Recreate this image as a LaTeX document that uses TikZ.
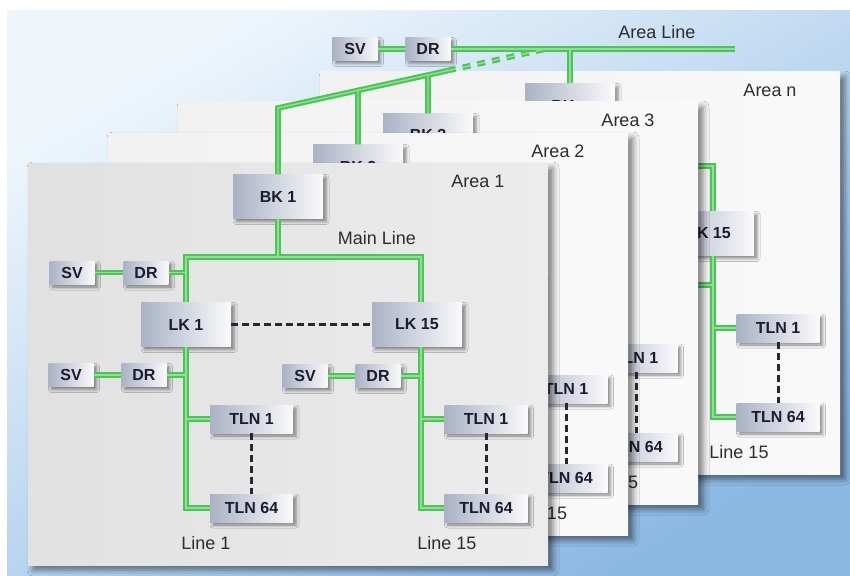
\documentclass[tikz,border=0pt]{standalone}
\usepackage{fontspec}
\setmainfont{Liberation Sans}
\usetikzlibrary{shadows.blur,calc}
\definecolor{gOut}{RGB}{78,196,88}
\definecolor{gIn}{RGB}{140,226,145}
\definecolor{boxL}{RGB}{170,178,196}
\definecolor{boxR}{RGB}{250,250,252}
\definecolor{boxtxt}{RGB}{28,28,48}
\definecolor{lbl}{RGB}{45,45,45}
\definecolor{bgA}{RGB}{238,246,252}
\definecolor{bgB}{RGB}{140,184,228}
\definecolor{dashc}{RGB}{40,40,48}
\definecolor{panAL}{RGB}{225,225,226}
\definecolor{panAR}{RGB}{236,236,236}
\definecolor{panBL}{RGB}{241,241,242}
\definecolor{panBR}{RGB}{249,249,249}
\tikzset{
  dev/.style={rectangle, inner sep=0pt, left color=boxL, right color=boxR,
    text=boxtxt, font=\fontsize{16}{16}\selectfont\bfseries,
    blur shadow={shadow xshift=3pt, shadow yshift=-3pt, shadow blur radius=3pt, shadow opacity=45}},
  bignode/.style={dev, minimum width=90pt, minimum height=44pt},
  tlnnode/.style={dev, minimum width=83pt, minimum height=28pt},
  smallnode/.style={dev, minimum width=45pt, minimum height=23pt},
  gouter/.style={draw=gOut, line width=5.6pt},
  ginner/.style={draw=gIn, line width=1.4pt},
  blackdash/.style={draw=dashc, line width=3pt, dash pattern=on 7pt off 4pt},
  lbltext/.style={text=lbl, font=\fontsize{18}{18}\selectfont, inner sep=0pt},
  panelshape/.style={blur shadow={shadow xshift=5pt, shadow yshift=-5pt, shadow blur radius=6pt, shadow opacity=50}},
}
% #1 id, #2 start of DR stub, #3 extra green paths, #4 line label text, #5 its x
\newcommand\panelcore[5]{%
  \node[lbltext] (area-#1) at (450,18) {Area #1};
  \node[bignode] (bk-#1) at (250,33.5) {BK #1};
  \node[bignode] (lkb-#1) at (389,161.5) {LK 15};
  \node[tlnnode] (tlb1-#1) at (458,256) {TLN 1};
  \node[tlnnode] (tlb64-#1) at (458,345) {TLN 64};
  \node[lbltext] (lineb-#1) at (#5,380) {#4};
  \coordinate (mb-#1) at (250,94);
  \coordinate (mr-#1) at (393,94);
  \coordinate (drb-#1) at (372.5,213);
  \foreach \gst in {gouter,ginner}{%
    \draw[\gst] (bk-#1.south) -- (mb-#1);
    \draw[\gst] (mb-#1) -- (mr-#1) -- (lkb-#1.north -| mr-#1);
    \draw[\gst] (lkb-#1.south -| mr-#1) -- (mr-#1 |- tlb64-#1.west) -- (tlb64-#1.west);
    \draw[\gst] (mr-#1 |- tlb1-#1.west) -- (tlb1-#1.west);
    \draw[\gst] (#2) -- (mr-#1 |- #2);
    #3
  }
  \draw[blackdash] (tlb1-#1.south) -- (tlb64-#1.north);
}
\begin{document}
\begin{tikzpicture}[x=1pt,y=-1pt]
\useasboundingbox (0,0) rectangle (850,575);
\fill[white] (0,0) rectangle (850,575);
\shade[top color=bgA, bottom color=bgB, shading angle=30] (7,11) rectangle (850,575);

% ---- Area n ----
\begin{scope}[shift={(320,72)}]
  \path[panelshape, left color=panBL, right color=panBR] (0,0) rectangle (520,402);
  \begin{scope}
    \clip (0,0) rectangle (520,402);
    \panelcore{n}{drb-n}{}{Line 15}{419}
  \end{scope}
\end{scope}

% ---- Area 3 ----
\begin{scope}[shift={(178,102)}]
  \path[panelshape, left color=panBL, right color=panBR] (0,0) rectangle (520,402);
  \begin{scope}
    \clip (0,0) rectangle (520,402);
    \panelcore{3}{drb-3}{}{5}{455}
  \end{scope}
\end{scope}

% ---- Area 2 ----
\begin{scope}[shift={(108,133)}]
  \path[panelshape, left color=panBL, right color=panBR] (0,0) rectangle (520,402);
  \begin{scope}
    \clip (0,0) rectangle (520,402);
    \panelcore{2}{drb-2}{}{15}{449}
  \end{scope}
\end{scope}

% ---- Area 1 ----
\begin{scope}[shift={(28,163)}]
  \path[panelshape, left color=panAL, right color=panAR] (0,0) rectangle (520,402);
  \begin{scope}
    \clip (0,0) rectangle (520,402);
    \node[bignode] (lka-1) at (158,161.5) {LK 1};
    \node[smallnode] (svu-1) at (44,109.5) {SV};
    \node[smallnode] (dru-1) at (118,109.5) {DR};
    \node[smallnode] (sva-1) at (43,212) {SV};
    \node[smallnode] (dra-1) at (116,212) {DR};
    \node[smallnode] (svb-1) at (277,213) {SV};
    \node[smallnode] (drbn-1) at (350,213) {DR};
    \node[tlnnode] (tla1-1) at (223.5,256) {TLN 1};
    \node[tlnnode] (tla64-1) at (223.5,345) {TLN 64};
    \node[lbltext] (linea-1) at (178,380) {Line 1};
    \node[lbltext] (main-1) at (349,75) {Main Line};
    \coordinate (ml-1) at (158,94);
    \panelcore{1}{drbn-1.east}{%
      \draw[\gst] (lka-1.north) -- (ml-1) -- (mb-1);
      \draw[\gst] (lka-1.south) -- (lka-1.south |- tla64-1.west) -- (tla64-1.west);
      \draw[\gst] (lka-1.south |- tla1-1.west) -- (tla1-1.west);
      \draw[\gst] (dra-1.east) -- (lka-1.south |- dra-1.east);
      \draw[\gst] (dru-1.east) -- (ml-1 |- dru-1.east);
      \draw[\gst] (svu-1.east) -- (dru-1.west);
      \draw[\gst] (sva-1.east) -- (dra-1.west);
      \draw[\gst] (svb-1.east) -- (drbn-1.west);
    }{Line 15}{419}
    \draw[blackdash] (lka-1.east) -- (lkb-1.west);
    \draw[blackdash] (tla1-1.south) -- (tla64-1.north);
  \end{scope}
\end{scope}

% ---- Area line ----
\node[smallnode] (svt) at (355,49) {SV};
\node[smallnode] (drt) at (428,49) {DR};
\node[lbltext] (arealine) at (657,32) {Area Line};
\coordinate (alend) at (735,49);
\coordinate (sl0) at (278,108);
\coordinate (sl1) at (546,49);
\coordinate (s2) at ($(sl0)!0.2985!(sl1)$);
\coordinate (s3) at ($(sl0)!0.5597!(sl1)$);
\coordinate (d0) at ($(sl0)!0.6343!(sl1)$);
\foreach \gst in {gouter,ginner}{%
  \draw[\gst] (svt.east) -- (drt.west);
  \draw[\gst] (drt.east) -- (alend);
  \draw[\gst] (bk-n.north) -- (bk-n.north |- alend);
  \draw[\gst] (bk-1.north) -- (sl0) -- (d0);
  \draw[\gst] (s2) -- (bk-2.north);
  \draw[\gst] (s3) -- (bk-3.north);
  \draw[\gst, dash pattern=on 8pt off 7pt] (d0) -- (sl1);
}
\end{tikzpicture}
\end{document}
